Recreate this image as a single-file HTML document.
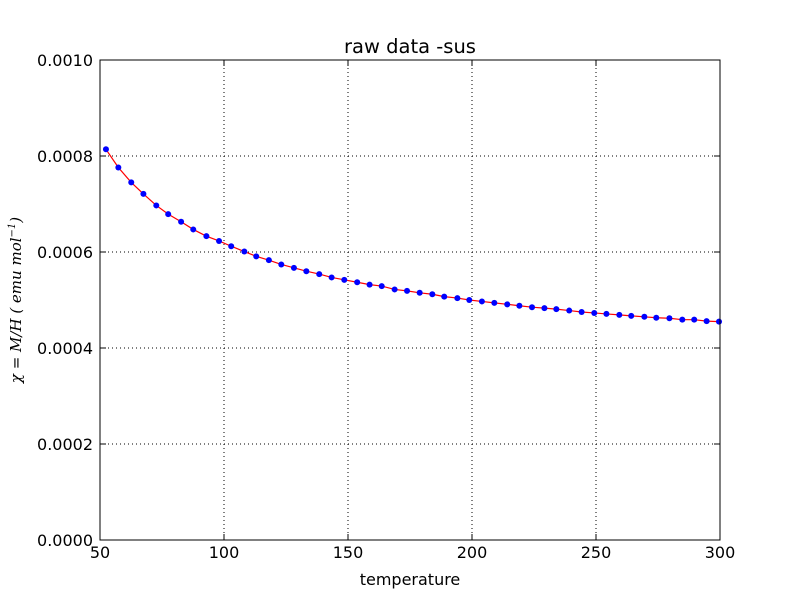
<!DOCTYPE html>
<html><head><meta charset="utf-8"><style>
body{margin:0;background:#fff;}
svg{display:block;font-family:"DejaVu Sans","Liberation Sans",sans-serif;}
</style></head><body>
<svg id="chart" width="800" height="600">
<rect x="0" y="0" width="800" height="600" fill="#fff"/>
<text x="410" y="53" font-size="19.5" text-anchor="middle">raw data -sus</text>
<text x="410" y="585" font-size="16" text-anchor="middle">temperature</text>
<text transform="translate(21,300) rotate(-90)" font-size="15" text-anchor="middle" font-family="'DejaVu Serif','Liberation Serif',serif" font-style="italic">χ = M/H ( emu mol<tspan font-size="10" dy="-6">−1</tspan><tspan dy="6">)</tspan></text>
<g id="grid"></g>
<g id="ticks"></g>
<g id="series"></g>
<rect x="100" y="60" width="620" height="480" fill="none" stroke="#000" stroke-width="1"/>
</svg>
<script>
const temps=[52.4,57.4,62.6,67.5,72.7,77.5,82.7,87.6,92.9,98.0,102.9,108.2,113.0,118.1,123.1,128.2,133.2,138.4,143.4,148.5,153.7,158.7,163.6,168.8,173.8,178.9,184.0,188.8,194.1,198.9,204.0,209.0,214.2,219.1,224.2,229.2,234.0,239.2,244.2,249.3,254.2,259.4,264.2,269.5,274.3,279.6,284.8,289.6,294.6,299.6];
const chi=[0.000814,0.000776,0.000745,0.000721,0.000697,0.000679,0.000663,0.000647,0.000633,0.000623,0.000612,0.000601,0.000591,0.000583,0.000574,0.000567,0.000560,0.000554,0.000547,0.000542,0.000537,0.000532,0.000529,0.000522,0.000519,0.000515,0.000512,0.000507,0.000504,0.000500,0.000497,0.000494,0.000491,0.000488,0.000485,0.000483,0.000481,0.000478,0.000475,0.000473,0.000471,0.000469,0.000467,0.000465,0.000463,0.000462,0.000459,0.000459,0.000456,0.000455];
const xTicks=[50,100,150,200,250,300];
const yTicks=[0,0.0002,0.0004,0.0006,0.0008,0.0010];
const yTickLabels=["0.0000","0.0002","0.0004","0.0006","0.0008","0.0010"];
const NS="http://www.w3.org/2000/svg";
const X0=100,X1=720,Y0=540,Y1=60;
function xs(v){return X0+(v-50)/250*(X1-X0);}
function ys(v){return Y0-(v/0.001)*(Y0-Y1);}
function mk(tag,attrs,parent){const e=document.createElementNS(NS,tag);for(const k in attrs)e.setAttribute(k,attrs[k]);parent.appendChild(e);return e;}
const grid=document.getElementById('grid'),ticks=document.getElementById('ticks'),series=document.getElementById('series');
xTicks.forEach(t=>{const x=xs(t);
 if(t>50&&t<300){const g=mk('line',{x1:x,x2:x,y1:Y1,y2:Y0,stroke:'#000','stroke-dasharray':'1,3','stroke-width':1},grid);
 
 }
 const a=mk('line',{x1:x,x2:x,y1:Y0,y2:Y0-6,stroke:'#000'},ticks);
 
 
 const b=mk('line',{x1:x,x2:x,y1:Y1,y2:Y1+6,stroke:'#000'},ticks);
 
 
 const l=mk('text',{x:x,y:558,'font-size':16,'text-anchor':'middle'},ticks);l.textContent=t;
 
 
});
yTicks.forEach((t,i)=>{const y=ys(t);
 if(i>0&&i<yTicks.length-1){const g=mk('line',{x1:X0,x2:X1,y1:y,y2:y,stroke:'#000','stroke-dasharray':'1,3','stroke-width':1},grid);
 
 }
 const a=mk('line',{x1:X0,x2:X0+6,y1:y,y2:y,stroke:'#000'},ticks);
 
 
 const b=mk('line',{x1:X1,x2:X1-6,y1:y,y2:y,stroke:'#000'},ticks);
 
 
 const l=mk('text',{x:93,y:y+6,'font-size':16,'text-anchor':'end'},ticks);l.textContent=yTickLabels[i];
 
 
});
const pts=temps.map((t,i)=>xs(t)+','+ys(chi[i])).join(' ');
const line=mk('polyline',{points:pts,fill:'none',stroke:'#ff0000','stroke-width':1.2},series);


temps.forEach((t,i)=>{const c=mk('circle',{cx:xs(t),cy:ys(chi[i]),r:3,fill:'#0000ff'},series);
 
 
});
</script>
</body></html>
